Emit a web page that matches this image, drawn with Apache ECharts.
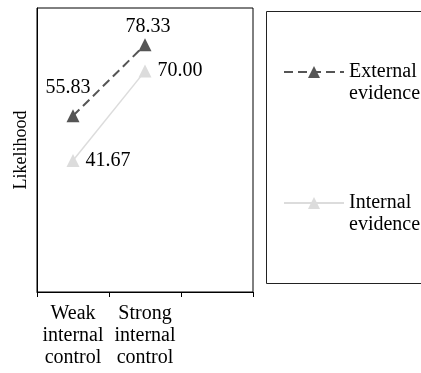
<!DOCTYPE html>
<html><head><meta charset="utf-8">
<script src="https://cdn.jsdelivr.net/npm/echarts@6/dist/echarts.min.js"></script>
<style>html,body{margin:0;padding:0;background:#fff}#c{width:421px;height:373px}</style>
</head><body><div id="c"></div>
<script>
const categories = ['Weak\ninternal\ncontrol', 'Strong\ninternal\ncontrol', ''];
const externalEvidence = [55.83, 78.33, null];
const internalEvidence = [41.67, 70.00, null];
const seriesNames = ['External\nevidence', 'Internal\nevidence'];
const yName = 'Likelihood';

const FONT = 'Liberation Serif';
const chart = echarts.init(document.getElementById('c'), null, {renderer: 'canvas'});
chart.setOption({
  animation: false,
  backgroundColor: '#fff',
  textStyle: {fontFamily: FONT},
  grid: {left: 37, right: 168, top: 8, bottom: 81, show: true, borderColor: '#000', borderWidth: 1, backgroundColor: 'transparent'},
  graphic: [{type: 'rect', shape: {x: 266.5, y: 11.5, width: 200, height: 272}, style: {fill: 'none', stroke: '#222', lineWidth: 1}}],
  legend: {
    orient: 'vertical', left: 283, top: 39, padding: 0,
    itemWidth: 60, itemHeight: 15, itemGap: 65,
    formatter: name => ' \n' + name,
    textStyle: {fontFamily: FONT, fontSize: 20, lineHeight: 22, color: '#000'},
    data: seriesNames
  },
  xAxis: {
    type: 'category', data: categories, boundaryGap: true,
    axisLine: {lineStyle: {color: '#000', width: 1}},
    axisTick: {show: true, length: 5, lineStyle: {color: '#000'}},
    axisLabel: {fontFamily: FONT, fontSize: 20, lineHeight: 22, color: '#000', margin: 11, interval: 0}
  },
  yAxis: {
    type: 'value', min: 0, max: 90,
    name: yName, nameLocation: 'middle', nameGap: 7,
    nameTextStyle: {fontFamily: FONT, fontSize: 18, color: '#000'},
    axisLine: {show: true, lineStyle: {color: '#000'}},
    axisTick: {show: false}, axisLabel: {show: false}, splitLine: {show: false}
  },
  series: [
    {
      name: seriesNames[0], type: 'line', data: externalEvidence,
      symbol: 'triangle', symbolSize: 13,
      itemStyle: {color: '#555'},
      lineStyle: {color: '#555', width: 2, type: [9, 5]},
      label: {show: true, position: 'top', distance: 2, fontFamily: FONT, fontSize: 20, color: '#000'},
      labelLayout: function (p) { return p.dataIndex === 0 ? {dx: -5, dy: -10} : {dx: 3}; }
    },
    {
      name: seriesNames[1], type: 'line', data: internalEvidence,
      symbol: 'triangle', symbolSize: 13,
      itemStyle: {color: '#dcdcdc'},
      lineStyle: {color: '#dcdcdc', width: 1.5},
      label: {show: true, position: 'right', distance: 6, fontFamily: FONT, fontSize: 20, color: '#000',
        formatter: p => p.value.toFixed(2)}
    }
  ]
});
</script></body></html>
